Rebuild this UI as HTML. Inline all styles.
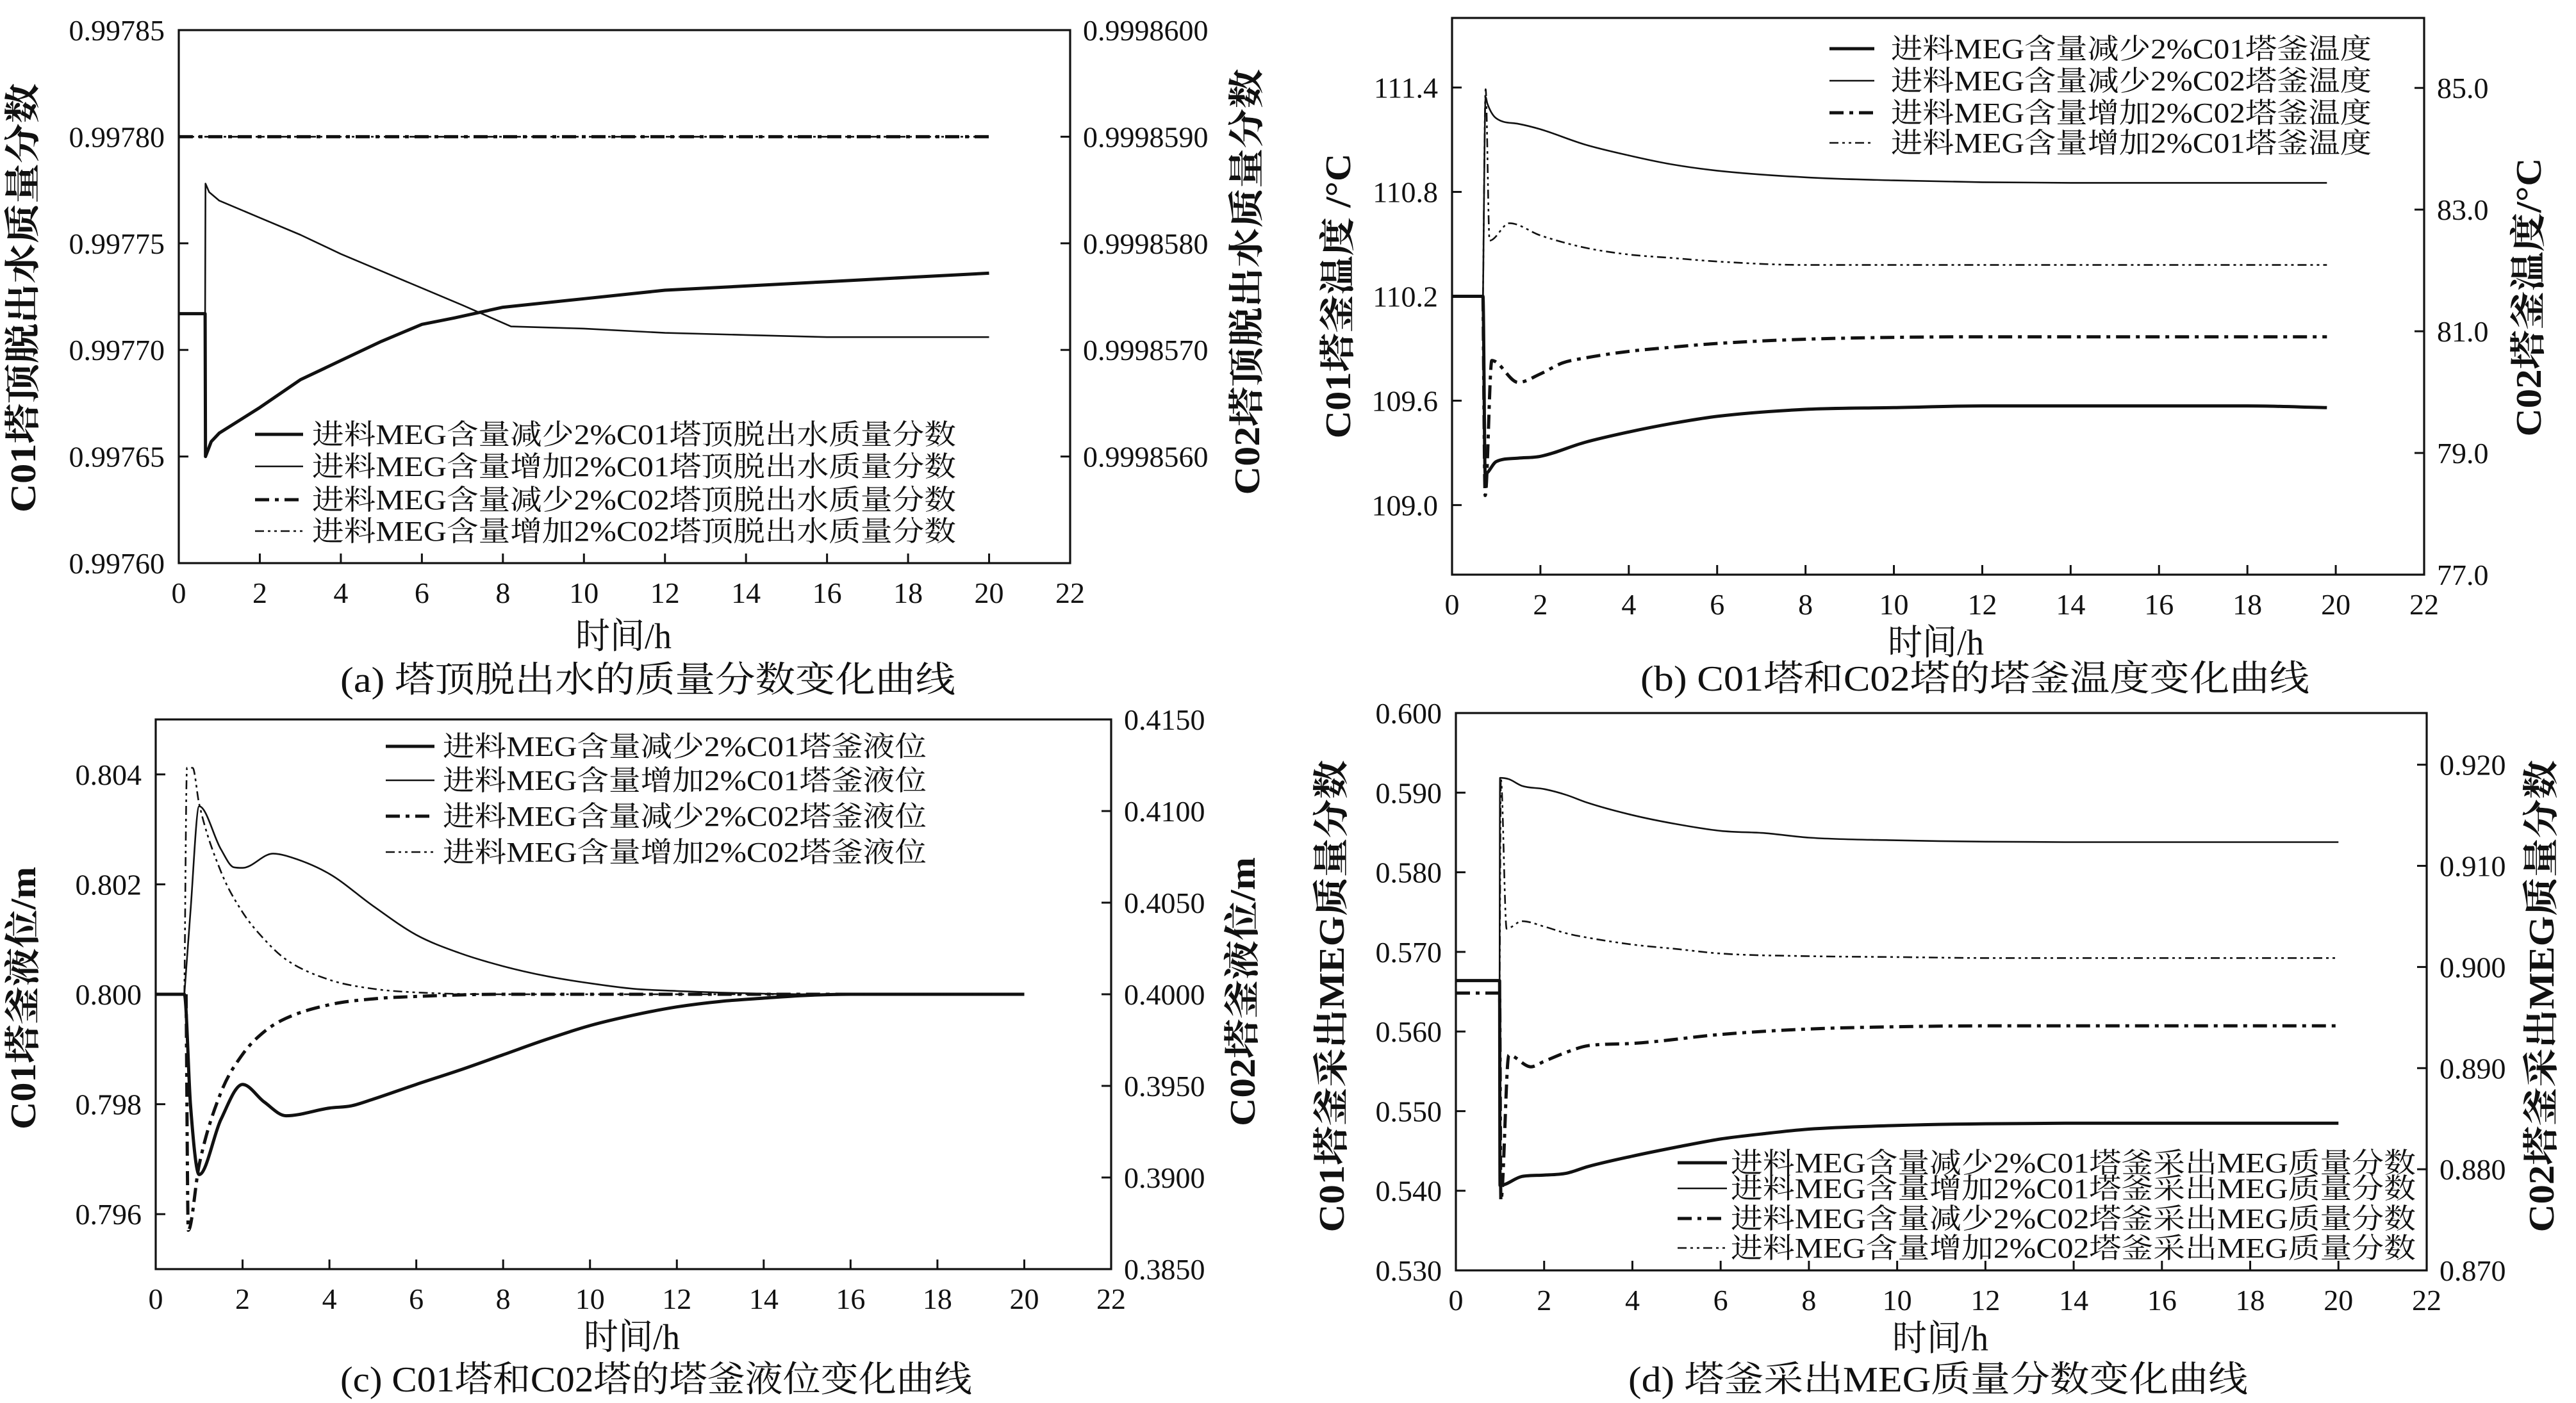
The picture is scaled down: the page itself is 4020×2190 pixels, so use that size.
<!DOCTYPE html>
<html><head><meta charset="utf-8">
<style>
html,body{margin:0;padding:0;background:#fff;}
svg{display:block;}
text{font-family:"Liberation Serif","Noto Serif CJK SC",serif;fill:#111;}
</style></head>
<body>
<svg id="fig" xmlns="http://www.w3.org/2000/svg" width="4020" height="2190" viewBox="0 0 4020 2190"></svg>
<script>
// ---------- Panel (a) data ----------
const aXTicks=[0,2,4,6,8,10,12,14,16,18,20,22];
const aYLTicks=[0.99760,0.99765,0.99770,0.99775,0.99780,0.99785];
const aYRTicks=[0.9998560,0.9998570,0.9998580,0.9998590,0.9998600];
const aS1x=[0,0.65,0.66,0.8,1,2,3,4,5,6,6.8,8,10,12,14,16,18,20];
const aS1y=[0.997717,0.997717,0.99765,0.997657,0.997661,0.997673,0.997686,0.997695,0.997704,0.997712,0.997715,0.99772,0.997724,0.997728,0.99773,0.997732,0.997734,0.997736];
const aS2x=[0.65,0.66,0.75,1,2,3,4,5,6,7,8.2,10,12,14,16,18,20];
const aS2y=[0.997717,0.997778,0.997774,0.99777,0.997762,0.997754,0.997745,0.997737,0.997729,0.997721,0.997711,0.99771,0.997708,0.997707,0.997706,0.997706,0.997706];
const aS3x=[0,20];
const aS3y=[0.9998590,0.9998590];
const aS4x=[0,20];
const aS4y=[0.9998590,0.9998590];
// ---------- Panel (b) data ----------
const bXTicks=[0,2,4,6,8,10,12,14,16,18,20,22];
const bYLTicks=[109.0,109.6,110.2,110.8,111.4];
const bYRTicks=[77,79,81,83,85];
const bS1x=[0,0.7,0.75,1,1.5,2,3,4,5,6,8,10,12,14,16,18,19.8];
const bS1y=[110.2,110.2,109.18,109.25,109.27,109.28,109.36,109.42,109.47,109.51,109.55,109.56,109.57,109.57,109.57,109.57,109.56];
const bS2x=[0.7,0.76,0.8,1,1.5,2,3,4,5,6,8,10,12,14,16,18,19.8];
const bS2y=[81.56,84.85,84.74,84.5,84.41,84.32,84.07,83.89,83.74,83.64,83.53,83.48,83.45,83.44,83.44,83.44,83.44];
const bS3x=[0.7,0.75,0.9,1.5,2,2.5,3,4,5,6,8,10,12,14,16,18,19.8];
const bS3y=[81.56,78.3,80.52,80.16,80.3,80.48,80.56,80.67,80.74,80.8,80.87,80.9,80.91,80.91,80.91,80.91,80.91];
const bS4x=[0.7,0.76,0.85,1.3,2,3,4,5,6,8,10,12,14,16,18,19.8];
const bS4y=[110.2,111.39,110.52,110.62,110.55,110.48,110.44,110.42,110.4,110.38,110.38,110.38,110.38,110.38,110.38,110.38];
// ---------- Panel (c) data ----------
const cXTicks=[0,2,4,6,8,10,12,14,16,18,20,22];
const cYLTicks=[0.796,0.798,0.800,0.802,0.804];
const cYRTicks=[0.3850,0.3900,0.3950,0.4000,0.4050,0.4100,0.4150];
const cS1x=[0,0.66,0.8,1,1.5,2,2.5,3,4,4.5,5,6,7,8,9,10,11,12,13,14,15,16,20];
const cS1y=[0.8,0.8,0.798,0.79672,0.79772,0.79836,0.79804,0.79779,0.79793,0.79797,0.79809,0.79836,0.79862,0.7989,0.79918,0.79943,0.79962,0.79977,0.79987,0.79993,0.79998,0.8,0.8];
const cS2x=[0.66,0.8,1,1.5,1.8,2,2.7,3,4,5,6,7,8,9,10,11,12,13,14,15,20];
const cS2y=[0.8,0.8015,0.80342,0.80264,0.80231,0.8023,0.80256,0.80252,0.80219,0.80161,0.80108,0.80075,0.80051,0.80033,0.8002,0.8001,0.80006,0.80003,0.80001,0.8,0.8];
const cS3x=[0.7,0.75,1,1.5,2,2.5,3,4,5,6,8,20];
const cS3y=[0.4,0.38712,0.39069,0.39463,0.39672,0.39796,0.39869,0.39943,0.39975,0.39988,0.4,0.4];
const cS4x=[0.66,0.72,0.85,1,1.5,2,2.5,3,4,5,6,8,20];
const cS4y=[0.4,0.41236,0.41236,0.41039,0.4067,0.40448,0.403,0.4019,0.40079,0.4003,0.4001,0.4,0.4];
// ---------- Panel (d) data ----------
const dXTicks=[0,2,4,6,8,10,12,14,16,18,20,22];
const dYLTicks=[0.530,0.540,0.550,0.560,0.570,0.580,0.590,0.600];
const dYRTicks=[0.870,0.880,0.890,0.900,0.910,0.920];
const dS1x=[0,0.99,1,1.5,2,2.5,3,4,5,6,7,8,10,12,14,16,18,20];
const dS1y=[0.5664,0.5664,0.54068,0.5418,0.54197,0.5422,0.54305,0.54435,0.54548,0.5465,0.54718,0.54774,0.5482,0.54842,0.54848,0.54848,0.54848,0.54848];
const dS2x=[0.99,1,1.2,1.5,2,2.5,3,4,5,6,7,8,10,12,14,16,18,20];
const dS2y=[0.5664,0.59186,0.5917,0.59085,0.59045,0.58972,0.5887,0.58718,0.58605,0.5852,0.58492,0.58435,0.58401,0.58384,0.58379,0.58379,0.58379,0.58379];
const dS3x=[0,0.99,1.02,1.2,1.7,2,2.5,3,4,6,8,10,12,14,16,18,20];
const dS3y=[0.89742,0.89742,0.87689,0.89129,0.89013,0.89067,0.89156,0.89222,0.89244,0.89333,0.89387,0.89409,0.89418,0.89418,0.89418,0.89418,0.89418];
const dS4x=[0.99,1.02,1.15,1.5,2,2.5,3,4,5,6,8,10,12,14,16,18,20];
const dS4y=[0.8971,0.91858,0.90378,0.90453,0.904,0.90333,0.90289,0.90222,0.90178,0.90133,0.90107,0.90098,0.90089,0.90089,0.90089,0.90089,0.90089];

const NS='http://www.w3.org/2000/svg';
const svg=document.getElementById('fig');
function mk(tag,attrs,parent){const e=document.createElementNS(NS,tag);for(const k in attrs)e.setAttribute(k,attrs[k]);(parent||svg).appendChild(e);return e;}

const STY={
  thick:{w:5,d:''},
  thin:{w:2.6,d:''},
  dashdot:{w:5,d:'22,9,6,9'},
  dashdotdot:{w:2.6,d:'14,6,4,6,4,6'}
};

// monotone cubic (Fritsch-Carlson) path in pixel space
function smoothPath(px,py){
  const n=px.length;
  if(n<3){let d='';for(let i=0;i<n;i++)d+=(i?'L':'M')+px[i].toFixed(1)+','+py[i].toFixed(1);return d;}
  const dx=[],m=[],t=new Array(n);
  for(let i=0;i<n-1;i++){dx.push(px[i+1]-px[i]);m.push(dx[i]===0?0:(py[i+1]-py[i])/dx[i]);}
  t[0]=m[0];t[n-1]=m[n-2];
  for(let i=1;i<n-1;i++){t[i]=(m[i-1]*m[i]<=0)?0:(m[i-1]+m[i])/2;}
  for(let i=0;i<n-1;i++){
    if(m[i]===0){t[i]=0;t[i+1]=0;continue;}
    const a=t[i]/m[i],b=t[i+1]/m[i],s=a*a+b*b;
    if(s>9){const k=3/Math.sqrt(s);t[i]=k*a*m[i];t[i+1]=k*b*m[i];}
  }
  let d='M'+px[0].toFixed(1)+','+py[0].toFixed(1);
  for(let i=0;i<n-1;i++){
    const h=dx[i]/3;
    d+='C'+(px[i]+h).toFixed(1)+','+(py[i]+t[i]*h).toFixed(1)+' '+(px[i+1]-h).toFixed(1)+','+(py[i+1]-t[i+1]*h).toFixed(1)+' '+px[i+1].toFixed(1)+','+py[i+1].toFixed(1);
  }
  return d;
}

function panel(P){
  const g=mk('g',{});
  
  
  const sx=v=>P.L+(v-P.x0)/(P.x1-P.x0)*(P.R-P.L);
  const syL=v=>P.B-(v-P.yl0)/(P.yl1-P.yl0)*(P.B-P.T);
  const syR=v=>P.B-(v-P.yr0)/(P.yr1-P.yr0)*(P.B-P.T);
  P.series.forEach((s,i)=>{
    const f=s.axis==='R'?syR:syL;
    const px=s.x.map(sx),py=s.y.map(f);
    const d=P.smooth?smoothPath(px,py):px.map((x,k)=>(k?'L':'M')+x.toFixed(1)+','+py[k].toFixed(1)).join('');
    const st=STY[s.style];
    const p=mk('path',{d:d,fill:'none',stroke:'#111','stroke-width':st.w,'stroke-linejoin':'round'},g);
    if(st.d)p.setAttribute('stroke-dasharray',st.d);
    
    
  });
  const fr=mk('rect',{x:P.L,y:P.T,width:P.R-P.L,height:P.B-P.T,fill:'none',stroke:'#111','stroke-width':3.2},g);
  
  
  const gx=mk('g',{},g);
  
  
  P.xt.forEach(v=>{
    const x=sx(v);
    mk('line',{x1:x,y1:P.B,x2:x,y2:P.B-15,stroke:'#111','stroke-width':3},gx);
    const t=mk('text',{x:x,y:P.B+P.xlo,'font-size':46,'text-anchor':'middle'},gx);
    t.textContent=String(v);
  });
  const gl=mk('g',{},g);
  
  
  P.ylt.forEach(v=>{
    const y=syL(v);
    mk('line',{x1:P.L,y1:y,x2:P.L+15,y2:y,stroke:'#111','stroke-width':3},gl);
    const t=mk('text',{x:P.L-22,y:y+16,'font-size':46,'text-anchor':'end'},gl);
    t.textContent=v.toFixed(P.ldec);
  });
  const gr=mk('g',{},g);
  
  
  P.yrt.forEach(v=>{
    const y=syR(v);
    mk('line',{x1:P.R,y1:y,x2:P.R-15,y2:y,stroke:'#111','stroke-width':3},gr);
    const t=mk('text',{x:P.R+20,y:y+16,'font-size':46,'text-anchor':'start'},gr);
    t.textContent=v.toFixed(P.rdec);
  });
  const tl=mk('text',{x:0,y:0,'font-size':56,'font-weight':'bold','text-anchor':'middle',transform:'translate('+P.ltx+','+P.lty+') rotate(-90)',textLength:P.ltl,lengthAdjust:'spacingAndGlyphs'},g);
  tl.textContent=P.ltitle;
  
  
  const tr=mk('text',{x:0,y:0,'font-size':56,'font-weight':'bold','text-anchor':'middle',transform:'translate('+P.rtx+','+P.rty+') rotate(-90)',textLength:P.rtl,lengthAdjust:'spacingAndGlyphs'},g);
  tr.textContent=P.rtitle;
  
  
  const xt=mk('text',{x:P.xtx,y:P.xty,'font-size':56,'text-anchor':'middle',textLength:150,lengthAdjust:'spacingAndGlyphs'},g);
  xt.textContent='时间/h';
  
  
  const cp=mk('text',{x:P.cx0,y:P.cy,'font-size':56,textLength:P.cw,lengthAdjust:'spacingAndGlyphs'},g);
  cp.textContent=P.caption;
  
  
  const lg=mk('g',{},g);
  
  
  P.series.forEach((s,i)=>{
    const y=P.legY[i];
    const st=STY[s.style];
    const ln=mk('line',{x1:P.legX0,y1:y,x2:P.legX1,y2:y,stroke:'#111','stroke-width':st.w},lg);
    if(st.d)ln.setAttribute('stroke-dasharray',st.d);
    const t=mk('text',{x:P.legTx,y:y+15,'font-size':44,textLength:P.legTw,lengthAdjust:'spacingAndGlyphs'},lg);
    t.textContent=s.label;
    
    
  });
}

panel({name:'panel-a-overhead-water',id:'a',smooth:false,L:279,R:1670,T:47,B:879,x0:0,x1:22,yl0:0.99760,yl1:0.99785,yr0:0.9998550,yr1:0.9998600,
  xt:aXTicks,ylt:aYLTicks,yrt:aYRTicks,ldec:5,rdec:7,xlo:62,
  ltitle:'C01塔顶脱出水质量分数',ltx:55,lty:465,ltl:670,rtitle:'C02塔顶脱出水质量分数',rtx:1965,rty:440,rtl:665,
  xtx:973,xty:1012,caption:'(a) 塔顶脱出水的质量分数变化曲线',cx0:531,cy:1080,cw:960,
  legX0:398,legX1:473,legTx:487,legTw:1005,legY:[678,728,780,829],
  series:[
   {x:aS1x,y:aS1y,axis:'L',style:'thick',label:'进料MEG含量减少2%C01塔顶脱出水质量分数'},
   {x:aS2x,y:aS2y,axis:'L',style:'thin',label:'进料MEG含量增加2%C01塔顶脱出水质量分数'},
   {x:aS3x,y:aS3y,axis:'R',style:'dashdot',label:'进料MEG含量减少2%C02塔顶脱出水质量分数'},
   {x:aS4x,y:aS4y,axis:'R',style:'dashdotdot',label:'进料MEG含量增加2%C02塔顶脱出水质量分数'}]});

panel({name:'panel-b-bottom-temperature',id:'b',smooth:true,L:2266,R:3783,T:28,B:897,x0:0,x1:22,yl0:108.6,yl1:111.8,yr0:77,yr1:86.15,
  xt:bXTicks,ylt:bYLTicks,yrt:bYRTicks,ldec:1,rdec:1,xlo:62,
  ltitle:'C01塔釜温度 /°C',ltx:2107,lty:462,ltl:445,rtitle:'C02塔釜温度/°C',rtx:3965,rty:464,rtl:435,
  xtx:3021,xty:1022,caption:'(b) C01塔和C02塔的塔釜温度变化曲线',cx0:2560,cy:1078,cw:1044,
  legX0:2855,legX1:2925,legTx:2951,legTw:750,legY:[76,126,176,223],
  series:[
   {x:bS1x,y:bS1y,axis:'L',style:'thick',label:'进料MEG含量减少2%C01塔釜温度'},
   {x:bS2x,y:bS2y,axis:'R',style:'thin',label:'进料MEG含量减少2%C02塔釜温度'},
   {x:bS3x,y:bS3y,axis:'R',style:'dashdot',label:'进料MEG含量增加2%C02塔釜温度'},
   {x:bS4x,y:bS4y,axis:'L',style:'dashdotdot',label:'进料MEG含量增加2%C01塔釜温度'}]});

panel({name:'panel-c-bottom-level',id:'c',smooth:true,L:243,R:1734,T:1123,B:1981,x0:0,x1:22,yl0:0.795,yl1:0.805,yr0:0.385,yr1:0.415,
  xt:cXTicks,ylt:cYLTicks,yrt:cYRTicks,ldec:3,rdec:4,xlo:62,
  ltitle:'C01塔釜液位/m',ltx:55,lty:1558,ltl:410,rtitle:'C02塔釜液位/m',rtx:1958,rty:1548,rtl:420,
  xtx:986,xty:2106,caption:'(c) C01塔和C02塔的塔釜液位变化曲线',cx0:531,cy:2172,cw:986,
  legX0:602,legX1:678,legTx:691,legTw:755,legY:[1165,1218,1274,1330],
  series:[
   {x:cS1x,y:cS1y,axis:'L',style:'thick',label:'进料MEG含量减少2%C01塔釜液位'},
   {x:cS2x,y:cS2y,axis:'L',style:'thin',label:'进料MEG含量增加2%C01塔釜液位'},
   {x:cS3x,y:cS3y,axis:'R',style:'dashdot',label:'进料MEG含量减少2%C02塔釜液位'},
   {x:cS4x,y:cS4y,axis:'R',style:'dashdotdot',label:'进料MEG含量增加2%C02塔釜液位'}]});

panel({name:'panel-d-bottom-meg',id:'d',smooth:true,L:2272,R:3787,T:1113,B:1983,x0:0,x1:22,yl0:0.530,yl1:0.600,yr0:0.870,yr1:0.92511,
  xt:dXTicks,ylt:dYLTicks,yrt:dYRTicks,ldec:3,rdec:3,xlo:62,
  ltitle:'C01塔釜采出MEG质量分数',ltx:2097,lty:1555,ltl:737,rtitle:'C02塔釜采出MEG质量分数',rtx:3985,rty:1555,rtl:737,
  xtx:3028,xty:2108,caption:'(d) 塔釜采出MEG质量分数变化曲线',cx0:2541,cy:2172,cw:967,
  legX0:2618,legX1:2695,legTx:2701,legTw:1069,legY:[1815,1855,1902,1948],
  series:[
   {x:dS1x,y:dS1y,axis:'L',style:'thick',label:'进料MEG含量减少2%C01塔釜采出MEG质量分数'},
   {x:dS2x,y:dS2y,axis:'L',style:'thin',label:'进料MEG含量增加2%C01塔釜采出MEG质量分数'},
   {x:dS3x,y:dS3y,axis:'R',style:'dashdot',label:'进料MEG含量减少2%C02塔釜采出MEG质量分数'},
   {x:dS4x,y:dS4y,axis:'R',style:'dashdotdot',label:'进料MEG含量增加2%C02塔釜采出MEG质量分数'}]});
</script>
</body></html>
